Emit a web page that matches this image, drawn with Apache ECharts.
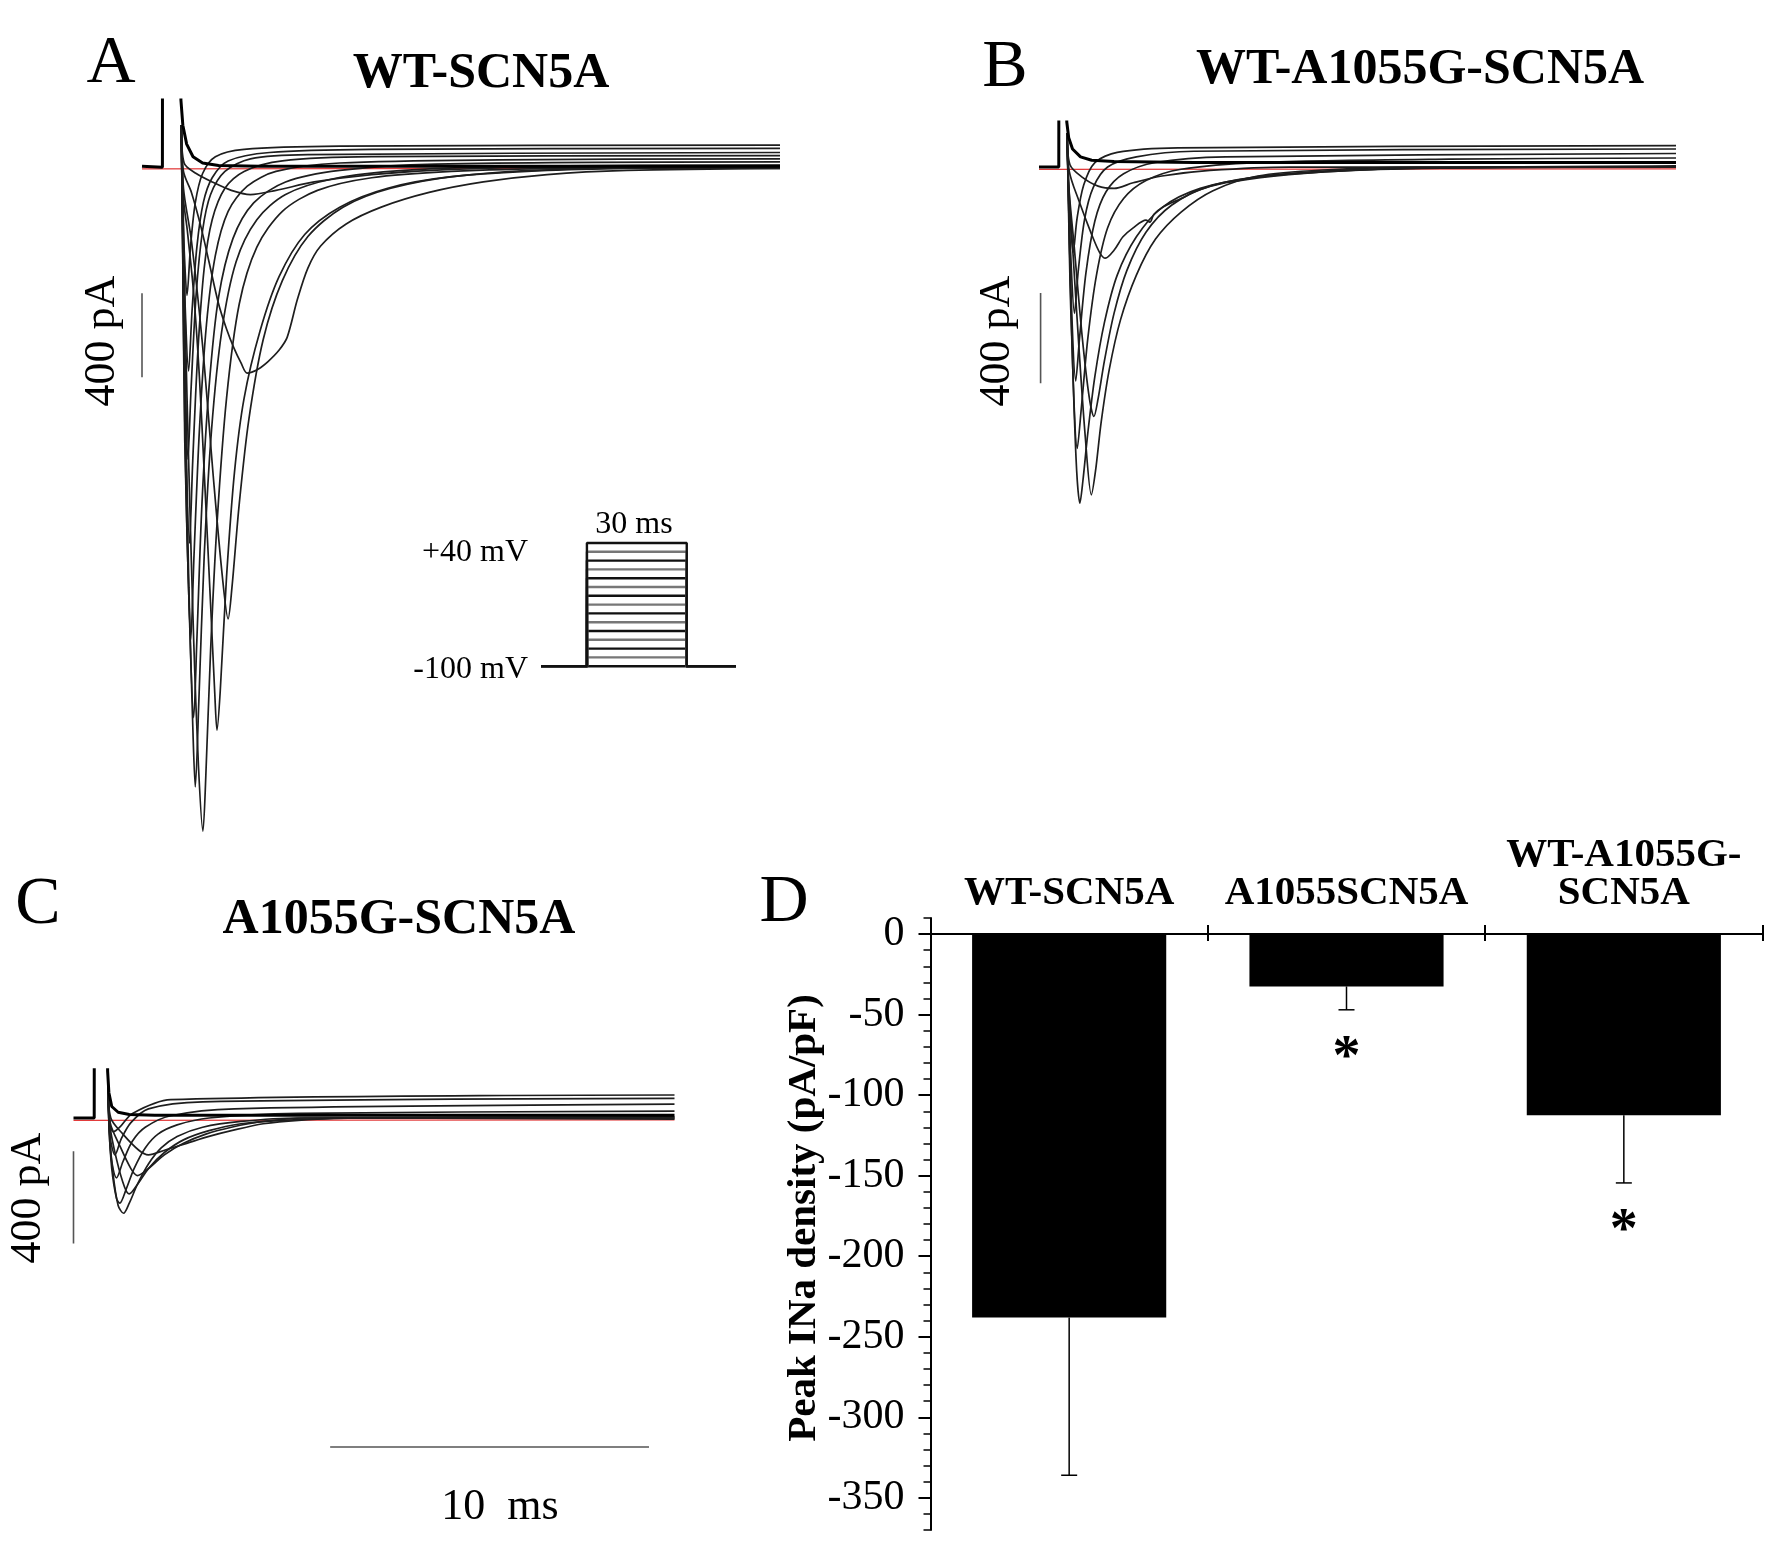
<!DOCTYPE html>
<html>
<head>
<meta charset="utf-8">
<script src="https://cdn.jsdelivr.net/npm/echarts@6/dist/echarts.min.js"></script>
<style>
html, body { margin: 0; padding: 0; background: #fff; }
#main { width: 1772px; height: 1544px; }
</style>
</head>
<body>
<div id="main"></div>
<script>
// ---- current traces, [time ms, current pA] ----
// A: WT-SCN5A
var wtHolding = [[-1.2,5],[-0.56,0],[-0.55,2000],[0.0,2000],[0.02,320],[0.08,200],[0.2,110],[0.4,50],[0.7,20],[1.2,8],[2.5,5],[18.8,5]];
var wtTraces = [
  [[0.03,200],[0.08,-100],[0.15,-700],[0.28,-1500],[0.42,-2250],[0.57,-2850],[0.71,-3160],[0.8,-2900],[0.95,-2300],[1.15,-1700],[1.45,-1100],[1.85,-650],[2.4,-380],[3.2,-210],[4.3,-110],[6,-50],[8.5,-20],[12,-5],[18.8,0]],
  [[0.03,200],[0.07,-200],[0.14,-1000],[0.27,-2000],[0.4,-2700],[0.47,-2950],[0.58,-2550],[0.75,-1850],[0.98,-1250],[1.3,-780],[1.75,-450],[2.4,-250],[3.3,-130],[4.8,-55],[7,-15],[11,5],[18.8,10]],
  [[0.03,200],[0.1,-150],[0.22,-300],[0.42,-600],[0.6,-1000],[0.75,-1450],[0.95,-2080],[1.08,-2500],[1.15,-2680],[1.25,-2500],[1.45,-1950],[1.7,-1450],[2.0,-1100],[2.5,-780],[3.1,-520],[3.9,-320],[5.0,-190],[6.5,-100],[8.5,-45],[11.5,-15],[15,-3],[18.8,0]],
  [[0.03,200],[0.1,-100],[0.35,-350],[0.7,-850],[1.05,-1500],[1.32,-1950],[1.5,-2150],[1.62,-2000],[1.85,-1600],[2.15,-1200],[2.6,-820],[3.2,-540],[4.0,-330],[5.1,-190],[6.6,-100],[8.8,-40],[12,-10],[18.8,0]],
  [[0.03,200],[0.07,-300],[0.14,-1300],[0.3,-2200],[0.42,-2620],[0.52,-2250],[0.68,-1600],[0.9,-1050],[1.2,-620],[1.65,-340],[2.3,-170],[3.3,-70],[5,-15],[8,15],[18.8,25]],
  [[0.03,200],[0.07,-300],[0.15,-1300],[0.33,-2250],[0.43,-1850],[0.6,-1250],[0.82,-750],[1.1,-420],[1.5,-210],[2.1,-90],[3,-20],[5,20],[10,35],[18.8,40]],
  [[0.03,200],[0.07,-300],[0.15,-1100],[0.29,-1790],[0.39,-1400],[0.55,-880],[0.75,-480],[1.0,-250],[1.4,-100],[2.0,-20],[3.2,30],[6,50],[18.8,55]],
  [[0.03,200],[0.07,-250],[0.14,-850],[0.24,-1390],[0.34,-1050],[0.5,-600],[0.7,-300],[0.95,-130],[1.4,-20],[2.2,40],[4,60],[18.8,70]],
  [[0.03,200],[0.07,-200],[0.15,-650],[0.26,-970],[0.37,-680],[0.52,-380],[0.72,-170],[1.0,-50],[1.5,30],[2.8,70],[6,85],[18.8,90]],
  [[0.03,200],[0.07,-150],[0.13,-420],[0.21,-610],[0.32,-380],[0.47,-170],[0.7,-30],[1.1,50],[2,85],[5,100],[18.8,105]],
  [[0.03,200],[0.1,-20],[0.35,-120],[0.65,-285],[0.9,-450],[1.2,-650],[1.45,-770],[1.68,-860],[1.9,-930],[2.1,-980],[2.45,-960],[2.75,-925],[3.1,-870],[3.35,-810],[3.67,-630],[4.0,-480],[4.4,-375],[5.2,-270],[6.3,-190],[7.8,-120],[9.5,-70],[11.5,-35],[14,-15],[18.8,-5]],
  [[0.03,200],[0.12,20],[0.5,-30],[1.0,-70],[1.6,-110],[2.2,-130],[3.0,-110],[4.2,-70],[6,-35],[8.5,-10],[12,0],[18.8,-5]]
];
var wtZero = [[-1.2,-8],[18.8,-4]];
var wtBar400 = [[-1.2,-600],[-1.2,-1000]];

// B: WT-A1055G-SCN5A
var mixHolding = [[-0.85,0],[-0.23,0],[-0.22,2000],[0.0,2000],[0.02,200],[0.08,130],[0.2,80],[0.45,45],[0.8,30],[1.5,25],[4,20],[19.1,20]];
var mixTraces = [
  [[0.03,150],[0.07,-100],[0.13,-500],[0.22,-950],[0.33,-1350],[0.43,-1493],[0.52,-1400],[0.68,-1180],[0.9,-930],[1.2,-690],[1.6,-480],[2.2,-310],[3.0,-180],[4.2,-95],[6,-45],[9,-15],[13,-3],[19.1,0]],
  [[0.03,150],[0.08,-80],[0.2,-350],[0.4,-800],[0.6,-1200],[0.79,-1456],[0.92,-1350],[1.1,-1130],[1.35,-900],[1.7,-680],[2.2,-480],[2.8,-320],[3.6,-200],[4.6,-105],[6,-40],[8.2,-12],[11,0],[19.1,0]],
  [[0.03,150],[0.08,-80],[0.25,-350],[0.5,-750],[0.72,-1020],[0.87,-1108],[1.0,-1030],[1.2,-860],[1.5,-650],[1.9,-460],[2.5,-290],[3.3,-170],[4.5,-85],[6.5,-35],[10,-8],[19.1,5]],
  [[0.03,150],[0.1,-20],[0.4,-150],[0.8,-300],[1.05,-380],[1.23,-405],[1.5,-370],[1.78,-310],[2.1,-270],[2.5,-236],[2.62,-245],[2.75,-210],[3.05,-176],[3.6,-140],[4.1,-105],[5,-70],[6.5,-40],[8.5,-18],[11,-5],[19.1,0]],
  [[0.03,150],[0.07,-150],[0.15,-650],[0.35,-1250],[0.47,-1080],[0.68,-760],[0.95,-480],[1.3,-270],[1.8,-140],[2.5,-60],[3.6,-10],[6,20],[12,35],[19.1,40]],
  [[0.03,150],[0.07,-120],[0.15,-550],[0.3,-950],[0.42,-760],[0.62,-470],[0.9,-240],[1.25,-110],[1.8,-30],[2.8,20],[5,45],[19.1,60]],
  [[0.03,150],[0.07,-100],[0.14,-380],[0.26,-650],[0.38,-460],[0.58,-230],[0.85,-90],[1.3,0],[2.2,45],[4,70],[19.1,80]],
  [[0.03,150],[0.07,-60],[0.13,-240],[0.22,-380],[0.34,-230],[0.55,-80],[0.9,20],[1.6,65],[3.5,85],[19.1,95]],
  [[0.03,150],[0.12,10],[0.5,-45],[1.0,-85],[1.5,-95],[2.1,-70],[3.0,-40],[4.5,-15],[7,0],[19.1,0]]
];
var mixZero = [[-0.85,-10],[19.1,-8]];
var mixBar400 = [[-0.8,-560],[-0.8,-960]];

// C: A1055G-SCN5A
var mutHolding = [[-1.05,0],[-0.4,0],[-0.39,2000],[0.0,2000],[0.02,204],[0.06,110],[0.15,50],[0.35,25],[0.7,15],[1.5,12],[17.8,12]];
var mutTraces = [
  [[0.03,150],[0.08,-60],[0.18,-230],[0.35,-380],[0.52,-414],[0.7,-370],[0.95,-290],[1.3,-200],[1.7,-130],[2.2,-80],[3.0,-40],[4.2,-15],[6,0],[17.8,0]],
  [[0.03,150],[0.07,-50],[0.15,-220],[0.3,-350],[0.4,-370],[0.6,-310],[0.85,-220],[1.2,-130],[1.6,-70],[2.2,-30],[3.2,0],[6,20],[17.8,30]],
  [[0.03,150],[0.1,-40],[0.3,-180],[0.55,-300],[0.7,-330],[0.95,-290],[1.3,-220],[1.8,-150],[2.4,-95],[3.2,-55],[4.2,-25],[5.5,-10],[8,0],[17.8,0]],
  [[0.03,150],[0.1,-20],[0.4,-120],[0.75,-220],[0.95,-250],[1.3,-220],[1.8,-160],[2.4,-110],[3.1,-70],[3.9,-40],[4.9,-15],[6.2,0],[17.8,5]],
  [[0.03,150],[0.12,0],[0.5,-70],[1.0,-140],[1.3,-160],[1.8,-140],[2.5,-110],[3.2,-80],[3.9,-55],[4.9,-25],[6,-10],[8,0],[17.8,-5]],
  [[0.03,150],[0.07,-60],[0.14,-180],[0.3,-260],[0.5,-190],[0.8,-100],[1.2,-40],[2,10],[4,40],[17.8,60]],
  [[0.03,150],[0.07,-40],[0.13,-110],[0.25,-160],[0.45,-90],[0.75,-20],[1.3,40],[3,70],[17.8,85]],
  [[0.03,150],[0.08,-20],[0.2,-60],[0.4,-40],[0.8,20],[2,80],[17.8,100]]
];
var mutZero = [[-1.05,-10],[17.8,-8]];
var mutBar400 = [[-1.05,-145],[-1.05,-545]];
var mutBar10ms = [[7.0,-1430],[17.0,-1430]];

// inset: voltage protocol (mV) and its timing (ms)
var protocolLevels = [-100, -90, -80, -70, -60, -50, -40, -30, -20, -10, 0, 10, 20, 30, 40];
var protocolTimes = [-13.8, 0, 30, 44.8];

// D: peak INa density (pA/pF)
var densityCategories = ['WT-SCN5A', 'A1055SCN5A', 'WT-A1055G-\nSCN5A'];
var densityMean = [-238, -32.5, -112.5];
var densitySem = [98, 14.5, 42];
var densityMarks = ['', '*', '*'];
var densityTicks = [0, -50, -100, -150, -200, -250, -300, -350];

var SERIF = '"Liberation Serif", "Times New Roman", serif';
var chart = echarts.init(document.getElementById('main'));

function hiddenAxis(grid, min, max) {
  return { type: 'value', gridIndex: grid, min: min, max: max, show: false };
}

function traceLine(data, grid, color, width, smooth) {
  return {
    type: 'line', xAxisIndex: grid, yAxisIndex: grid, data: data,
    symbol: 'none', smooth: smooth, clip: true, silent: true,
    lineStyle: { color: color, width: width }
  };
}

var series = [];
function addPanel(grid, holding, traces, zero, bars) {
  series.push(traceLine(zero, grid, '#e23b3b', 1.3, false));
  traces.forEach(function (tr) { series.push(traceLine(tr, grid, '#1e1e1e', 1.7, 0.3)); });
  series.push(traceLine(holding, grid, '#000', 3, false));
  bars.forEach(function (b) { series.push(traceLine(b, grid, '#555', 1.6, false)); });
}
addPanel(0, wtHolding, wtTraces, wtZero, [wtBar400]);
addPanel(1, mixHolding, mixTraces, mixZero, [mixBar400]);
addPanel(2, mutHolding, mutTraces, mutZero, [mutBar400, mutBar10ms]);

// protocol steps
protocolLevels.forEach(function (v, i) {
  var t = protocolTimes;
  series.push(traceLine([[t[0], -100], [t[1], -100], [t[1], v], [t[2], v], [t[2], -100], [t[3], -100]],
    3, i % 2 ? '#777' : '#111', 2.4, false));
});

// bars + error bars
series.push({
  type: 'bar', xAxisIndex: 4, yAxisIndex: 4, data: densityMean, barWidth: '70%',
  itemStyle: { color: '#000' }, silent: true
});
series.push({
  type: 'custom', xAxisIndex: 4, yAxisIndex: 4, silent: true,
  data: densityMean.map(function (m, i) { return [i, m, m - densitySem[i]]; }),
  encode: { x: 0, y: [1, 2] },
  renderItem: function (params, api) {
    var top = api.coord([api.value(0), api.value(1)]);
    var low = api.coord([api.value(0), api.value(2)]);
    var kids = [
      { type: 'line', shape: { x1: top[0], y1: top[1], x2: low[0], y2: low[1] }, style: { stroke: '#000', lineWidth: 1.5 } },
      { type: 'line', shape: { x1: low[0] - 8, y1: low[1], x2: low[0] + 8, y2: low[1] }, style: { stroke: '#000', lineWidth: 1.5 } }
    ];
    var mark = densityMarks[params.dataIndex];
    if (mark) {
      kids.push({ type: 'text', x: low[0], y: low[1] + 50,
        style: { text: mark, font: 'bold 56px ' + SERIF, fill: '#000', align: 'center', verticalAlign: 'middle' } });
    }
    return { type: 'group', children: kids };
  }
});

function label(text, x, y, font, rot, align) {
  return { type: 'text', x: x, y: y, rotation: rot || 0, silent: true,
    style: { text: text, font: font, fill: '#000', align: align || 'center', verticalAlign: 'middle',
      textAlign: align || 'center', textVerticalAlign: 'middle' } };
}

var letterFont = '68px ' + SERIF;
var titleFont = 'bold 50px ' + SERIF;
var smallFont = '44px ' + SERIF;
var protoFont = '32px ' + SERIF;

var option = {
  animation: false,
  backgroundColor: '#fff',
  grid: [
    { left: 142, top: 100, width: 638, height: 750 },
    { left: 1039, top: 122, width: 637, height: 394 },
    { left: 73.5, top: 1069.7, width: 601, height: 398 },
    { left: 541, top: 538.6, width: 195, height: 132 },
    { left: 930.5, top: 918, width: 832, height: 612 }
  ],
  xAxis: [
    hiddenAxis(0, -1.2, 18.8),
    hiddenAxis(1, -0.85, 19.1),
    hiddenAxis(2, -1.05, 17.8),
    hiddenAxis(3, -13.8, 44.8),
    {
      type: 'category', gridIndex: 4, position: 'top', data: densityCategories,
      axisLine: { onZero: true, lineStyle: { color: '#000', width: 2 } },
      axisTick: { show: true, length: 9, lineStyle: { color: '#000', width: 2 } },
      axisLabel: { interval: 0, margin: 6, color: '#000', fontFamily: SERIF, fontWeight: 'bold', fontSize: 41, lineHeight: 38 },
      splitLine: { show: false }
    },
    {
      type: 'category', gridIndex: 4, position: 'top', data: densityCategories,
      axisLine: { show: false, onZero: true },
      axisTick: { show: true, inside: true, length: 7, lineStyle: { color: '#000', width: 2 } },
      axisLabel: { show: false },
      splitLine: { show: false }
    }
  ],
  yAxis: [
    hiddenAxis(0, -3250, 320),
    hiddenAxis(1, -1550, 200),
    hiddenAxis(2, -1520, 210),
    hiddenAxis(3, -105, 45),
    {
      type: 'value', gridIndex: 4, min: -370, max: 10, position: 'left',
      axisLine: { show: true, onZero: false, lineStyle: { color: '#000', width: 2 } },
      axisTick: { show: true, length: 12, customValues: densityTicks, lineStyle: { color: '#000', width: 2 } },
      axisLabel: { customValues: densityTicks, margin: 26, color: '#000', fontFamily: SERIF, fontSize: 42 },
      splitLine: { show: false }
    },
    {
      type: 'value', gridIndex: 4, min: -370, max: 10, interval: 10, position: 'left',
      axisLine: { show: false },
      axisTick: { show: true, length: 7, lineStyle: { color: '#000', width: 1.5 } },
      axisLabel: { show: false },
      splitLine: { show: false }
    }
  ],
  series: series,
  graphic: { elements: [
    label('A', 111, 64, letterFont),
    label('WT-SCN5A', 481, 74, titleFont),
    label('B', 1005, 68, letterFont),
    label('WT-A1055G-SCN5A', 1420, 70, titleFont),
    label('C', 38, 905, letterFont),
    label('A1055G-SCN5A', 399, 920, titleFont),
    label('D', 784, 903, letterFont),
    label('Peak INa density (pA/pF)', 804, 1218, 'bold 41px ' + SERIF, Math.PI / 2),
    label('400 pA', 102, 341, smallFont, Math.PI / 2),
    label('400 pA', 997, 341, smallFont, Math.PI / 2),
    label('400 pA', 28, 1198, smallFont, Math.PI / 2),
    label('10  ms', 500, 1507, smallFont),
    label('+40 mV', 528, 553, protoFont, 0, 'right'),
    label('-100 mV', 528, 670, protoFont, 0, 'right'),
    label('30 ms', 634, 525, protoFont)
  ] }
};
chart.setOption(option);
</script>
</body>
</html>
